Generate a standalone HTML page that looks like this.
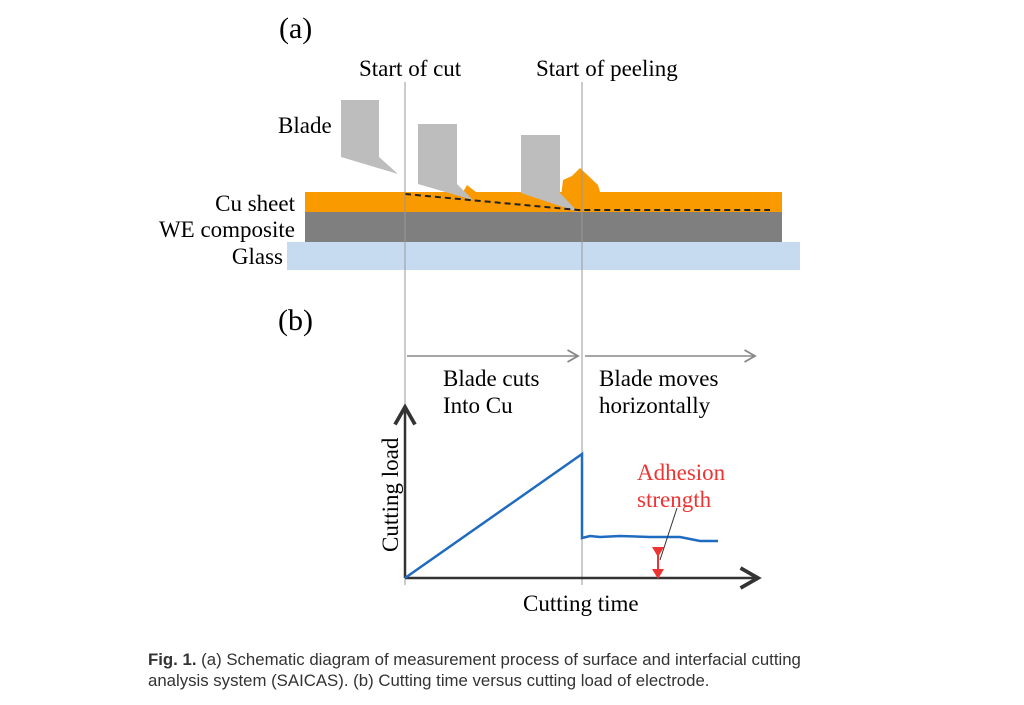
<!DOCTYPE html><html><head><style>body{margin:0;background:#fff}svg text{font-family:"Liberation Serif",serif}</style></head><body>
<svg width="1024" height="700" xmlns="http://www.w3.org/2000/svg">
<defs><marker id="ar" markerWidth="10" markerHeight="10" refX="8" refY="5" orient="auto"><path d="M1,1 L8,5 L1,9" fill="none" stroke="#333" stroke-width="1.5"/></marker>
<marker id="g" markerWidth="10" markerHeight="10" refX="8" refY="5" orient="auto"><path d="M1,1 L8,5 L1,9" fill="none" stroke="#888" stroke-width="1.2"/></marker>
<marker id="r" markerWidth="5" markerHeight="6" refX="2.5" refY="3" orient="auto" markerUnits="strokeWidth"><path d="M0,0 L5,3 L0,6Z" fill="#e33"/></marker></defs>
<text x="279" y="38" font-size="30">(a)</text>
<text x="359" y="76" font-size="23">Start of cut</text>
<text x="536" y="76" font-size="23">Start of peeling</text>
<text x="278" y="133" font-size="23">Blade</text>
<text x="295" y="211" font-size="23" text-anchor="end">Cu sheet</text>
<text x="295" y="237" font-size="23" text-anchor="end">WE composite</text>
<text x="283" y="264" font-size="23" text-anchor="end">Glass</text>
<rect x="287" y="242" width="513" height="28" fill="#c6daf0"/>
<rect x="305" y="212" width="477" height="30" fill="#7f7f7f"/>
<rect x="305" y="192" width="477" height="20" fill="#f99a00"/>
<path d="M561,197 L563,180 L572,176 L580,168 L598,185 L600,192 L578,211Z" fill="#f99a00"/>
<path d="M463,192 L467,185 L476,192 L470,197Z" fill="#f99a00"/>
<path d="M341,100 L379,100 L379,157 L398,174 L341,157Z" fill="#bdbdbd"/>
<path d="M418,124 L457,124 L457,184 L473,200 L418,184Z" fill="#bdbdbd"/>
<path d="M521,135 L560,135 L560,193 L578,212 L521,193Z" fill="#bdbdbd"/>
<path d="M405,194 L578,210 L770,210" fill="none" stroke="#222" stroke-width="2" stroke-dasharray="6,4"/>
<line x1="405" y1="82" x2="405" y2="585" stroke="#999" stroke-width="1"/>
<line x1="582" y1="82" x2="582" y2="585" stroke="#999" stroke-width="1"/>
<text x="278" y="330" font-size="30">(b)</text>
<line x1="407" y1="356" x2="578" y2="356" stroke="#888" stroke-width="1.5" marker-end="url(#g)"/>
<line x1="585" y1="356" x2="755" y2="356" stroke="#888" stroke-width="1.5" marker-end="url(#g)"/>
<text x="443" y="386" font-size="23">Blade cuts</text>
<text x="443" y="413" font-size="23">Into Cu</text>
<text x="599" y="386" font-size="23">Blade moves</text>
<text x="599" y="413" font-size="23">horizontally</text>
<line x1="405" y1="578" x2="405" y2="407" stroke="#333" stroke-width="2.5" marker-end="url(#ar)"/>
<line x1="405" y1="578" x2="758" y2="578" stroke="#333" stroke-width="2.5" marker-end="url(#ar)"/>
<text transform="translate(398,552) rotate(-90)" font-size="23">Cutting load</text>
<path d="M405,578 L582,454 L582,538 L590,536 L600,537 L620,536 L650,537 L680,537 L690,539 L700,541 L718,541" fill="none" stroke="#1f6bbf" stroke-width="2.5"/>
<text x="637" y="480" font-size="23" fill="#e33">Adhesion</text>
<text x="637" y="507" font-size="23" fill="#e33">strength</text>
<line x1="677" y1="508" x2="660" y2="560" stroke="#333" stroke-width="1"/>
<line x1="658" y1="552" x2="658" y2="574" stroke="#e33" stroke-width="2" marker-start="url(#r)" marker-end="url(#r)"/>
<text x="523" y="611" font-size="23">Cutting time</text>
<text x="148" y="665" font-size="16.8" style="font-family:'Liberation Sans',sans-serif" fill="#333"><tspan font-weight="bold">Fig. 1.</tspan> (a) Schematic diagram of measurement process of surface and interfacial cutting</text>
<text x="148" y="686" font-size="16.8" style="font-family:'Liberation Sans',sans-serif" fill="#333">analysis system (SAICAS). (b) Cutting time versus cutting load of electrode.</text>
</svg></body></html>
